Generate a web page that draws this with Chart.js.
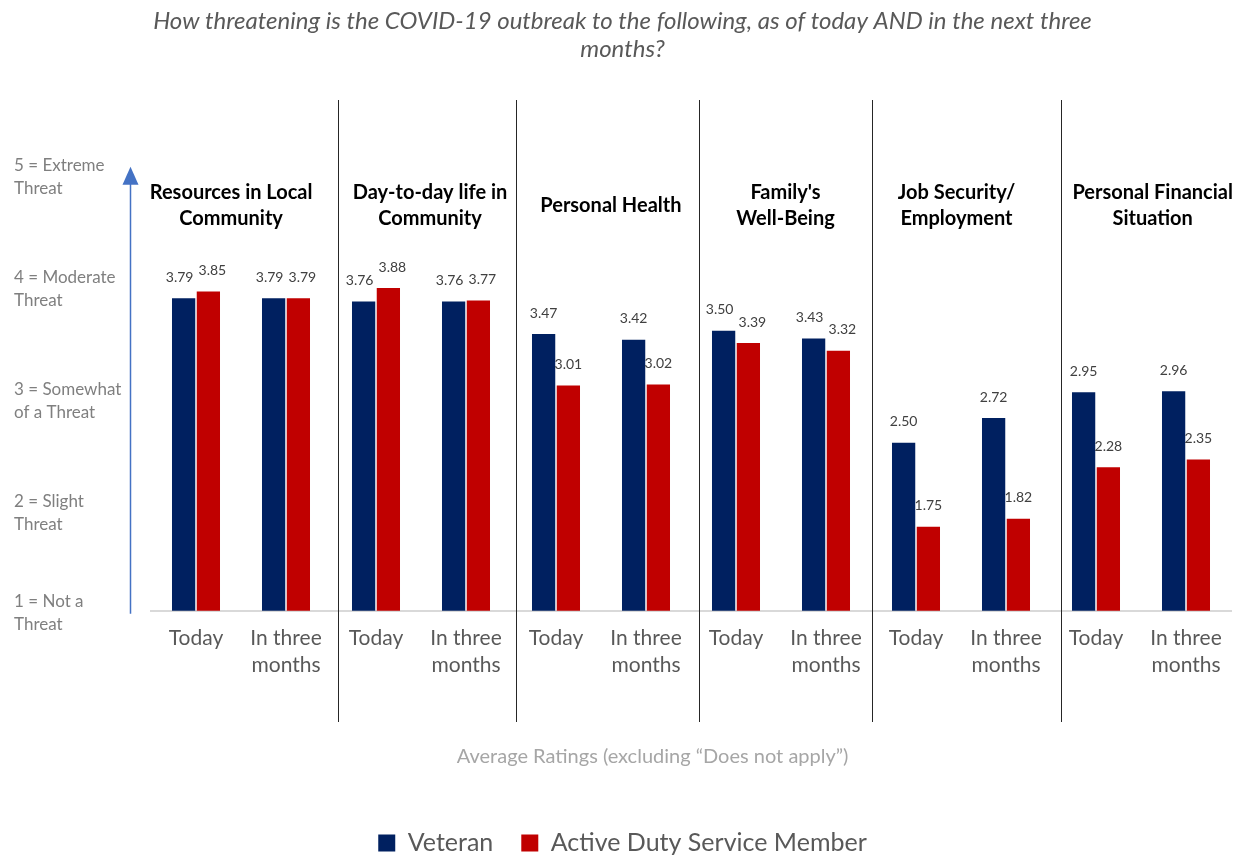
<!DOCTYPE html>
<html>
<head>
<meta charset="utf-8">
<script src="https://cdn.jsdelivr.net/npm/chart.js@4.4.1/dist/chart.umd.min.js"></script>
<style>
  html, body { margin: 0; padding: 0; background: #fff; overflow: hidden; }
  #wrap { width: 1246px; height: 859px; }
</style>
</head>
<body>
<div id="wrap"><canvas id="threatChart"></canvas></div>
<script>
// data
const categories = [
  'Today', ['In three', 'months'], 'Today', ['In three', 'months'],
  'Today', ['In three', 'months'], 'Today', ['In three', 'months'],
  'Today', ['In three', 'months'], 'Today', ['In three', 'months']
];
const veteran = [3.79, 3.79, 3.76, 3.76, 3.47, 3.42, 3.50, 3.43, 2.50, 2.72, 2.95, 2.96];
const activeDuty = [3.85, 3.79, 3.88, 3.77, 3.01, 3.02, 3.39, 3.32, 1.75, 1.82, 2.28, 2.35];
const groupTitles = [
  ['Resources in Local', 'Community'], ['Day-to-day life in', 'Community'], ['Personal Health'],
  ["Family's", 'Well-Being'], ['Job Security/', 'Employment'], ['Personal Financial', 'Situation']
];
// the bottom label gets an empty third line so it sits level with the base, like the original
const yTickLabels = {
  1: ['1 = Not a', 'Threat', ''], 2: ['2 = Slight', 'Threat'], 3: ['3 = Somewhat', 'of a Threat'],
  4: ['4 = Moderate', 'Threat'], 5: ['5 = Extreme', 'Threat']
};

// layout helpers (in category units)
const groupTitleAt = [0.39, 2.60, 4.61, 6.55, 8.45, 10.63];
const separatorAt = [1.576, 3.552, 5.594, 7.514, 9.612];

const FONT = 'Lato, "Open Sans", sans-serif';

const decorations = {
  id: 'decorations',
  afterDatasetsDraw(chart) {
    const {ctx, chartArea, scales: {x, y}} = chart;
    ctx.save();
    // separators
    ctx.strokeStyle = '#262626';
    ctx.lineWidth = 1;
    separatorAt.forEach(p => {
      const px = Math.round(x.getPixelForValue(p)) + 0.5;
      ctx.beginPath();
      ctx.moveTo(px, 100);
      ctx.lineTo(px, 722);
      ctx.stroke();
    });
    // arrow
    const ax = 130.5;
    ctx.strokeStyle = '#4472C4';
    ctx.fillStyle = '#4472C4';
    ctx.lineWidth = 1.5;
    ctx.beginPath();
    ctx.moveTo(ax, y.getPixelForValue(1) + 3);
    ctx.lineTo(ax, chartArea.top + 18);
    ctx.stroke();
    ctx.beginPath();
    ctx.moveTo(ax, chartArea.top + 4);
    ctx.lineTo(ax - 8, chartArea.top + 22);
    ctx.lineTo(ax + 8, chartArea.top + 22);
    ctx.closePath();
    ctx.fill();
    // group titles
    ctx.fillStyle = '#000';
    ctx.font = 'bold 20px ' + FONT;
    ctx.textAlign = 'center';
    ctx.textBaseline = 'middle';
    groupTitles.forEach((lines, i) => {
      const cx = x.getPixelForValue(groupTitleAt[i]);
      const cy = chartArea.top + 43;
      lines.forEach((t, k) => {
        ctx.fillText(t, cx, cy + (k - (lines.length - 1) / 2) * 26);
      });
    });
    // value labels, nudged apart when a pair sits at the same height
    ctx.fillStyle = '#404040';
    ctx.font = '14px ' + FONT;
    const vet = chart.getDatasetMeta(0).data;
    const act = chart.getDatasetMeta(1).data;
    vet.forEach((b0, i) => {
      const b1 = act[i];
      const close = Math.abs(b0.y - b1.y) < 15;
      ctx.fillText(veteran[i].toFixed(2), b0.x - (close ? 4 : 0), b0.y - 21);
      ctx.fillText(activeDuty[i].toFixed(2), b1.x + (close ? 4 : 0), b1.y - 21);
    });
    ctx.restore();
  }
};

new Chart(document.getElementById('threatChart'), {
  type: 'bar',
  data: {
    labels: categories,
    datasets: [
      { label: 'Veteran', data: veteran, backgroundColor: '#002060' },
      { label: 'Active Duty Service Member', data: activeDuty, backgroundColor: '#C00000' }
    ]
  },
  options: {
    responsive: true,
    maintainAspectRatio: false,
    animation: false,
    layout: { padding: { left: 14, right: 15, top: 0, bottom: -6.5 } },
    datasets: { bar: { categoryPercentage: 0.55, barPercentage: 0.94 } },
    scales: {
      x: {
        grid: { display: false },
        border: { color: '#d9d9d9', width: 2 },
        ticks: {
          autoSkip: false, maxRotation: 0, padding: 6,
          color: '#595959', font: { family: FONT, size: 21, lineHeight: 1.29 }
        },
        title: {
          display: true,
          // trailing no-break spaces pull the centred caption a little left, as in the original
          text: 'Average Ratings (excluding \u201CDoes not apply\u201D)' + '\u00A0'.repeat(15),
          color: '#a6a6a6', font: { family: FONT, size: 20 }, padding: { bottom: 33.5 }
        },
        afterFit(s) { s.height = 191.8; }
      },
      y: {
        min: 1, max: 5,
        grid: { display: false },
        border: { display: false },
        ticks: {
          stepSize: 1, crossAlign: 'far', labelOffset: 14,
          color: '#7f7f7f', font: { family: FONT, size: 17, lineHeight: 1.35 },
          callback: v => yTickLabels[v]
        },
        afterFit(s) { s.width = 137; }
      }
    },
    plugins: {
      title: {
        display: true,
        text: ['How threatening is the COVID-19 outbreak to the following, as of today AND in the next three', 'months?'],
        color: '#595959',
        font: { family: FONT, size: 24, style: 'italic', weight: 'normal', lineHeight: 1.17 },
        padding: { top: 7, bottom: 99.5 }
      },
      legend: {
        position: 'bottom',
        labels: {
          boxWidth: 17, boxHeight: 17, padding: 28,
          color: '#595959', font: { family: FONT, size: 25 }
        }
      },
      tooltip: { enabled: false }
    }
  },
  plugins: [decorations]
});
</script>
</body>
</html>
